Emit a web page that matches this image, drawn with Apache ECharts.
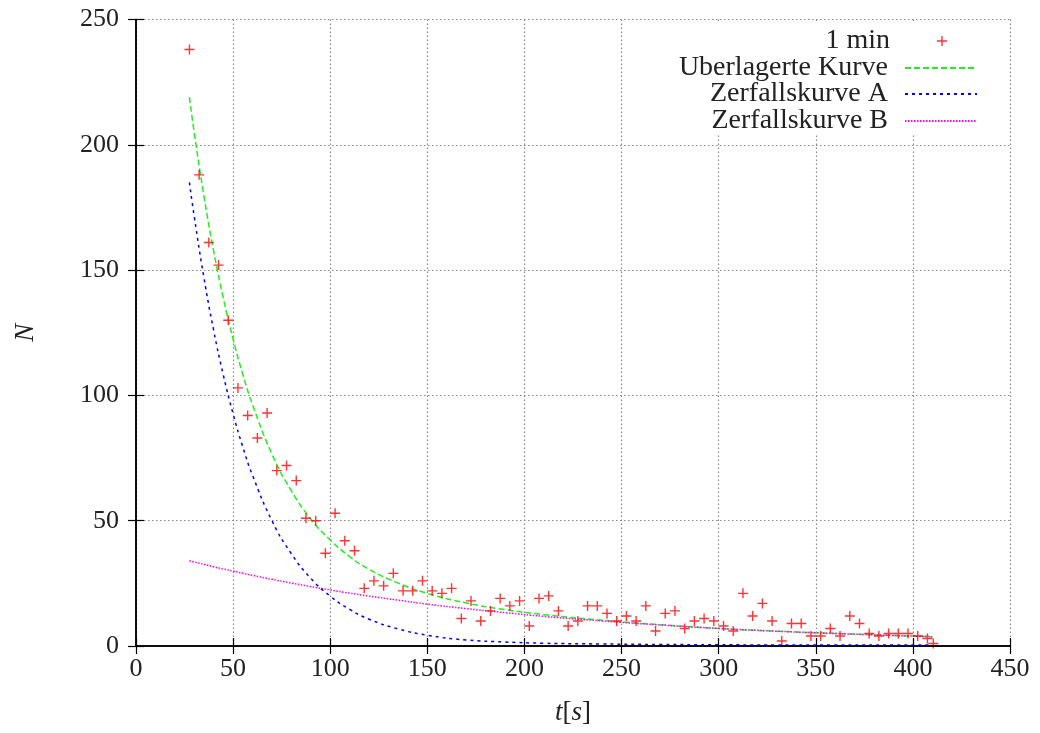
<!DOCTYPE html>
<html>
<head>
<meta charset="utf-8">
<script src="https://cdn.jsdelivr.net/npm/echarts@6/dist/echarts.min.js"></script>
<style>
  html, body { margin: 0; padding: 0; background: #fff; }
  #chart { width: 1040px; height: 733px; }
</style>
</head>
<body>
<div id="chart"></div>
<script>
var tData = [27.5, 32.5, 37.5, 42.5, 47.5, 52.5, 57.5, 62.5, 67.5, 72.5,
    77.5, 82.5, 87.5, 92.5, 97.5, 102.5, 107.5, 112.5, 117.5, 122.5,
    127.5, 132.5, 137.5, 142.5, 147.5, 152.5, 157.5, 162.5, 167.5, 172.5,
    177.5, 182.5, 187.5, 192.5, 197.5, 202.5, 207.5, 212.5, 217.5, 222.5,
    227.5, 232.5, 237.5, 242.5, 247.5, 252.5, 257.5, 262.5, 267.5, 272.5,
    277.5, 282.5, 287.5, 292.5, 297.5, 302.5, 307.5, 312.5, 317.5, 322.5,
    327.5, 332.5, 337.5, 342.5, 347.5, 352.5, 357.5, 362.5, 367.5, 372.5,
    377.5, 382.5, 387.5, 392.5, 397.5, 402.5, 407.5, 410.5];
var nData = [238, 188, 161, 152, 130, 103, 92, 83, 93, 70,
    72, 66, 51, 50, 37, 53, 42, 38, 23, 26,
    24, 29, 22, 22, 26, 22, 21, 23, 11, 18,
    10, 14, 19, 16, 18, 8, 19, 20, 14, 8,
    10, 16, 16, 13, 10, 12, 10, 16, 6, 13,
    14, 7, 10, 11, 10, 8, 6, 21, 12, 17,
    10, 2, 9, 9, 4, 4, 7, 4, 12, 9,
    5, 4, 5, 5, 5, 4, 3, 1];

// fitted curves
var curveT = [27.5, 30, 35, 40, 45, 50, 55, 60, 70, 80, 90, 100, 110, 120,
    135, 150, 170, 190, 210, 240, 270, 300, 330, 360, 390, 410];
var curveSum = [219.0, 204.8, 179.5, 157.5, 138.7, 122.5, 108.4, 96.3, 76.6, 61.9,
    50.7, 42.3, 35.7, 30.6, 25.1, 21.0, 17.2, 14.5, 12.5, 10.3, 8.5, 7.0, 5.9, 5.0, 4.2, 3.7];
var curveA = [185.0, 171.3, 146.9, 125.9, 108.0, 92.6, 79.4, 68.1, 50.0, 36.8,
    27.0, 19.9, 14.6, 10.7, 6.8, 4.3, 2.4, 1.6, 1.1, 0.8, 0.6, 0.5, 0.4, 0.4, 0.4, 0.4];
var curveB = [34.0, 33.5, 32.6, 31.6, 30.7, 29.9, 29.0, 28.2, 26.6, 25.1,
    23.7, 22.4, 21.1, 19.9, 18.3, 16.7, 14.9, 13.3, 11.8, 10.0, 8.4, 7.0, 5.9, 5.0, 4.2, 3.7];

var seriesNames = ['1 min', 'Uberlagerte Kurve', 'Zerfallskurve A', 'Zerfallskurve B'];

var plusPath = 'path://M4.3,0H5.7V4.3H10V5.7H5.7V10H4.3V5.7H0V4.3H4.3Z';
var serif = 'Liberation Serif';

function pairs(xs, ys) {
    return xs.map(function (x, i) { return [x, ys[i]]; });
}

function legendFor(name, topPx, opts) {
    return Object.assign({
        data: [name],
        orient: 'vertical',
        align: 'right',
        right: 62,
        top: topPx,
        padding: 0,
        itemWidth: 72,
        itemHeight: 14,
        selectedMode: false,
        itemStyle: { opacity: 0 },
        textStyle: {
            fontFamily: serif,
            fontSize: 28,
            color: '#222',
            padding: [0, 12, 0, 0]
        }
    }, opts || {});
}

var chart = echarts.init(document.getElementById('chart'), null, { renderer: 'canvas' });

var axisLineStyle = { color: '#000', width: 1.5 };
var tickStyle = { show: true, inside: true, length: 8, lineStyle: { color: '#000', width: 1.2 } };

var option = {
    backgroundColor: '#fff',
    animation: false,
    grid: { left: 136, right: 30, top: 19.5, bottom: 87 },
    legend: [
        legendFor(seriesNames[0], 27, {
            right: 93,
            icon: plusPath,
            itemWidth: 10,
            itemHeight: 10,
            itemStyle: {},
            textStyle: { fontFamily: serif, fontSize: 28, color: '#222', padding: [0, 42, 0, 0] }
        }),
        legendFor(seriesNames[1], 54),
        legendFor(seriesNames[2], 80),
        legendFor(seriesNames[3], 107)
    ],
    graphic: [{
        type: 'rect',
        z: 3,
        silent: true,
        shape: { x: 668, y: 21, width: 340, height: 112 },
        style: { fill: '#fff' }
    }],
    xAxis: [{
        type: 'value',
        min: 0, max: 450, interval: 50,
        name: '{i|t}{r|[}{i|s}{r|]}',
        nameLocation: 'middle',
        nameGap: 53,
        nameTextStyle: {
            rich: {
                i: { fontFamily: serif, fontStyle: 'italic', fontSize: 27, color: '#222' },
                r: { fontFamily: serif, fontSize: 27, color: '#222' }
            }
        },
        axisLine: { lineStyle: axisLineStyle },
        axisTick: tickStyle,
        axisLabel: { fontFamily: serif, fontSize: 26, color: '#222', margin: 10 },
        splitLine: { show: true, lineStyle: { color: '#888', width: 1.2, type: [1.5, 2.5] } }
    }, {
        type: 'value',
        position: 'top',
        z: 5,
        min: 0, max: 450, interval: 50,
        axisLine: { lineStyle: axisLineStyle },
        axisTick: tickStyle,
        axisLabel: { show: false },
        splitLine: { show: false }
    }],
    yAxis: [{
        type: 'value',
        min: 0, max: 250, interval: 50,
        name: 'N',
        nameLocation: 'middle',
        nameRotate: 90,
        nameGap: 97,
        nameTextStyle: { fontFamily: serif, fontStyle: 'italic', fontSize: 27, color: '#222' },
        axisLine: { lineStyle: axisLineStyle },
        axisTick: tickStyle,
        axisLabel: { fontFamily: serif, fontSize: 26, color: '#222', margin: 17 },
        splitLine: { show: true, lineStyle: { color: '#888', width: 1.2, type: [1.5, 2.5] } }
    }, {
        type: 'value',
        position: 'right',
        z: 5,
        min: 0, max: 250, interval: 50,
        axisLine: { lineStyle: axisLineStyle },
        axisTick: tickStyle,
        axisLabel: { show: false },
        splitLine: { show: false }
    }],
    series: [
        {
            name: seriesNames[0],
            type: 'scatter',
            symbol: plusPath,
            symbolSize: 10,
            itemStyle: { color: '#ff0000' },
            data: pairs(tData, nData),
            z: 4
        },
        {
            name: seriesNames[1],
            type: 'line',
            smooth: true,
            symbol: 'none',
            lineStyle: { color: '#22ee22', width: 1.5, type: [6, 3] },
            itemStyle: { color: '#22ee22' },
            data: pairs(curveT, curveSum)
        },
        {
            name: seriesNames[2],
            type: 'line',
            smooth: true,
            clip: false,
            symbol: 'none',
            lineStyle: { color: '#0000ff', width: 1.5, type: [3, 4] },
            itemStyle: { color: '#0000ff' },
            data: pairs(curveT, curveA),
            z: 6
        },
        {
            name: seriesNames[3],
            type: 'line',
            smooth: true,
            symbol: 'none',
            lineStyle: { color: '#ff00ff', width: 1.5, type: [1.5, 1.5] },
            itemStyle: { color: '#ff00ff' },
            data: pairs(curveT, curveB)
        }
    ]
};

chart.setOption(option);
</script>
</body>
</html>
